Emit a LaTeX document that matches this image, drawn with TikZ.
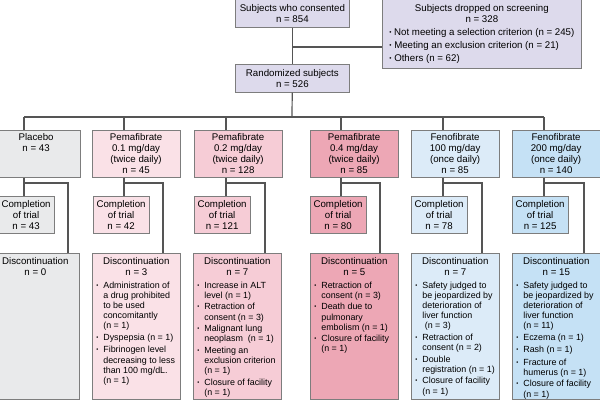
\documentclass[tikz,border=0pt]{standalone}
\usepackage{fontspec}
\setmainfont{Liberation Sans}
\usetikzlibrary{positioning,calc}
\definecolor{screen}{RGB}{221,218,236}
\definecolor{placebo}{RGB}{233,234,235}
\definecolor{pemaA}{RGB}{250,225,231}
\definecolor{pemaB}{RGB}{246,204,214}
\definecolor{pemaC}{RGB}{237,167,181}
\definecolor{fenoA}{RGB}{220,235,248}
\definecolor{fenoB}{RGB}{197,225,245}
\definecolor{edge}{RGB}{125,125,125}
\definecolor{wire}{RGB}{85,85,85}

\newcommand{\bul}{\raisebox{1.1pt}{\scalebox{0.65}{\textbullet}}}
\newcommand{\reason}[1]{\par\vspace{2.2pt}\noindent\makebox[7pt][l]{\bul}\parbox[t]{75pt}{\raggedright #1}}
\newcommand{\disclist}[2]{\begin{minipage}[t][138pt][t]{80pt}\centering Discontinuation\\ #1\par\vspace{0.4pt}\fontsize{8.9}{10.2}\selectfont\raggedright #2\end{minipage}}

\begin{document}
\begin{tikzpicture}[x=1pt, y=-1pt, font=\fontsize{9.7}{11}\selectfont,
  box/.style={draw=edge, line width=0.7pt, align=center, inner sep=0pt, anchor=north west},
  grpbox/.style={box, minimum width=87.5pt, minimum height=47pt},
  donebox/.style={box, minimum width=55.5pt, minimum height=37pt},
  discbox/.style={box, inner sep=4pt},
  wire/.style={draw=wire, line width=1.2pt}]
\useasboundingbox (0,0) rectangle (600,402);

% screening
\node(cons)[box,fill=screen,minimum width=114pt,minimum height=28pt] at (235,-1) {Subjects who consented\\ n = 854};
\node(drop)[box,fill=screen,minimum width=199pt,minimum height=69pt,inner xsep=7pt] at (382,-1) {\begin{minipage}{185pt}\centering Subjects dropped on screening\\ n = 328\par\vspace{2.5pt}\raggedright
  \bul\ Not meeting a selection criterion (n = 245)\\[2pt]
  \bul\ Meeting an exclusion criterion (n = 21)\\[2pt]
  \bul\ Others (n = 62)\end{minipage}};
\node(rand)[box,fill=screen,minimum width=114pt,minimum height=28pt] at (235,64) {Randomized subjects\\ n = 526};

% treatment groups
\node(g1)[grpbox,fill=placebo] at (-8,130) {Placebo\\ n = 43\\ ~\\ ~};
\node(g2)[grpbox,fill=pemaA] at (92,130) {Pemafibrate\\ 0.1 mg/day\\ (twice daily)\\ n = 45};
\node(g3)[grpbox,fill=pemaB] at (194,130) {Pemafibrate\\ 0.2 mg/day\\ (twice daily)\\ n = 128};
\node(g4)[grpbox,fill=pemaC] at (310,130) {Pemafibrate\\ 0.4 mg/day\\ (twice daily)\\ n = 85};
\node(g5)[grpbox,fill=fenoA] at (411,130) {Fenofibrate\\ 100 mg/day\\ (once daily)\\ n = 85};
\node(g6)[grpbox,fill=fenoB] at (512,130) {Fenofibrate\\ 200 mg/day\\ (once daily)\\ n = 140};

% completion
\node(c1)[donebox,fill=placebo] at (-2,196) {Completion\\ of trial\\ n = 43};
\node(c2)[donebox,fill=pemaA] at (93,196) {Completion\\ of trial\\ n = 42};
\node(c3)[donebox,fill=pemaB] at (194,196) {Completion\\ of trial\\ n = 121};
\node(c4)[donebox,fill=pemaC] at (310,196) {Completion\\ of trial\\ n = 80};
\node(c5)[donebox,fill=fenoA] at (411,196) {Completion\\ of trial\\ n = 78};
\node(c6)[donebox,fill=fenoB] at (512,196) {Completion\\ of trial\\ n = 125};

% discontinuation
\node(d1)[discbox,fill=placebo] at (-9,253) {\disclist{n = 0}{}};
\node(d2)[discbox,fill=pemaA] at (92,253) {\disclist{n = 3}{%
  \reason{Administration of\\ a drug prohibited\\ to be used\\ concomitantly\\ (n = 1)}
  \reason{Dyspepsia (n = 1)}
  \reason{Fibrinogen level\\ decreasing to less\\ than 100 mg/dL.\\ (n = 1)}}};
\node(d3)[discbox,fill=pemaB] at (193,253) {\disclist{n = 7}{%
  \reason{Increase in ALT\\ level (n = 1)}
  \reason{Retraction of\\ consent (n = 3)}
  \reason{Malignant lung\\ neoplasm~ (n = 1)}
  \reason{Meeting an\\ exclusion criterion\\ (n = 1)}
  \reason{Closure of facility\\ (n = 1)}}};
\node(d4)[discbox,fill=pemaC] at (310,253) {\disclist{n = 5}{%
  \reason{Retraction of\\ consent (n = 3)}
  \reason{Death due to\\ pulmonary\\ embolism (n = 1)}
  \reason{Closure of facility\\ (n = 1)}}};
\node(d5)[discbox,fill=fenoA] at (411,253) {\disclist{n = 7}{%
  \reason{Safety judged to\\ be jeopardized by\\ deterioration of\\ liver function\\ \ (n = 3)}
  \reason{Retraction of\\ consent (n = 2)}
  \reason{Double\\ registration (n = 1)}
  \reason{Closure of facility\\ (n = 1)}}};
\node(d6)[discbox,fill=fenoB] at (512,253) {\disclist{n = 15}{%
  \reason{Safety judged to\\ be jeopardized by\\ deterioration of\\ liver function\\ (n = 11)}
  \reason{Eczema (n = 1)}
  \reason{Rash (n = 1)}
  \reason{Fracture of\\ humerus (n = 1)}
  \reason{Closure of facility\\ (n = 1)}}};

% junctions
\coordinate(j0) at (292,47);
\coordinate(bar) at (292,117);
\coordinate(l1) at (24,117);  \coordinate(k1) at (68,183);
\coordinate(l2) at (124,117); \coordinate(k2) at (163,183);
\coordinate(l3) at (226,117); \coordinate(k3) at (265,183);
\coordinate(l4) at (341,117); \coordinate(k4) at (380,183);
\coordinate(l5) at (443,117); \coordinate(k5) at (482,183);
\coordinate(l6) at (544,117); \coordinate(k6) at (584,183);

\draw[wire] (cons) -- (rand);
\draw[wire] (j0) -- (j0 -| drop.west);
\draw[wire] (rand) -- (bar);
\draw[wire] (l1) -- (l6);

\draw[wire] (l1) -- (l1 |- g1.north);
\draw[wire] (l2) -- (l2 |- g2.north);
\draw[wire] (l3) -- (l3 |- g3.north);
\draw[wire] (l4) -- (l4 |- g4.north);
\draw[wire] (l5) -- (l5 |- g5.north);
\draw[wire] (l6) -- (l6 |- g6.north);

\draw[wire] (l1 |- g1.south) -- (l1 |- c1.north);
\draw[wire] (l2 |- g2.south) -- (l2 |- c2.north);
\draw[wire] (l3 |- g3.south) -- (l3 |- c3.north);
\draw[wire] (l4 |- g4.south) -- (l4 |- c4.north);
\draw[wire] (l5 |- g5.south) -- (l5 |- c5.north);
\draw[wire] (l6 |- g6.south) -- (l6 |- c6.north);

\draw[wire] (l1 |- k1) -| (k1 |- d1.north);
\draw[wire] (l2 |- k2) -| (k2 |- d2.north);
\draw[wire] (l3 |- k3) -| (k3 |- d3.north);
\draw[wire] (l4 |- k4) -| (k4 |- d4.north);
\draw[wire] (l5 |- k5) -| (k5 |- d5.north);
\draw[wire] (l6 |- k6) -| (k6 |- d6.north);

\end{tikzpicture}
\end{document}
